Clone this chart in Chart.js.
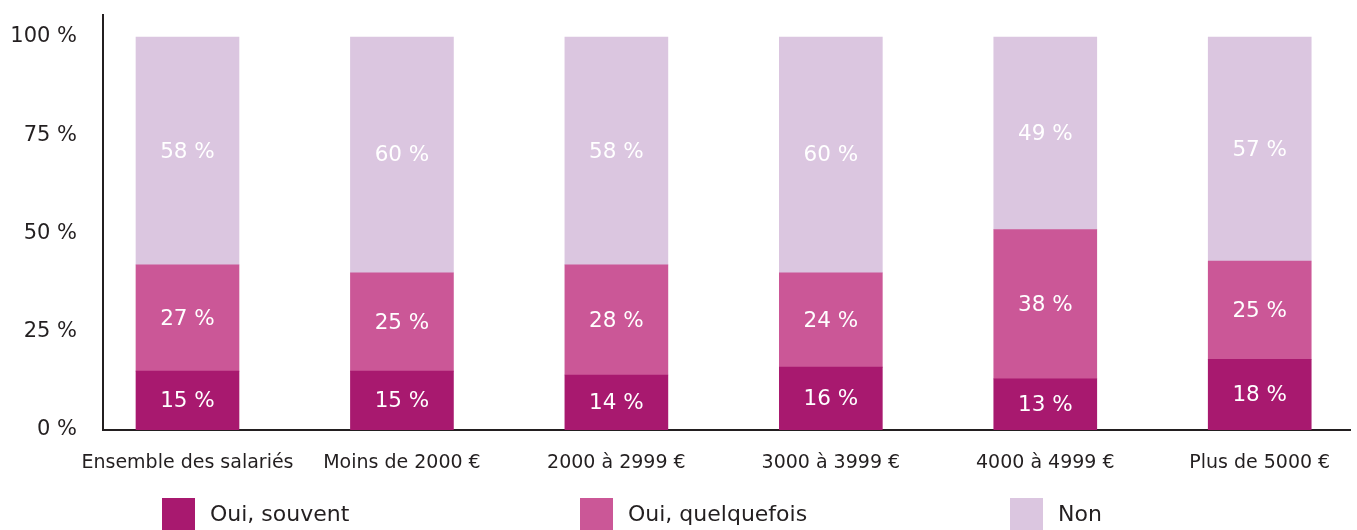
<!DOCTYPE html>
<html lang="fr">
<head>
<meta charset="utf-8">
<title>Salariés par revenu</title>
<script src="https://cdn.jsdelivr.net/npm/chart.js@4/dist/chart.umd.min.js"></script>
<style>
  html, body { margin: 0; padding: 0; background: #fff; }
  #wrap { width: 1357px; height: 530px; position: relative; }
</style>
</head>
<body>
<div id="wrap"><canvas id="chart"></canvas></div>
<script>
/* ========= Data ========= */
const categories = ["Ensemble des salariés", "Moins de 2000 €", "2000 à 2999 €", "3000 à 3999 €", "4000 à 4999 €", "Plus de 5000 €"];
const seriesNames = ["Oui, souvent", "Oui, quelquefois", "Non"];
const ouiSouvent = [15, 15, 14, 16, 13, 18];
const ouiQuelquefois = [27, 25, 28, 24, 38, 25];
const non = [58, 60, 58, 60, 49, 57];
const yTicks = [0, 25, 50, 75, 100];

/* ========= Styles ========= */
const COLORS = ["#a8196f", "#cb5797", "#dbc6e0"];
const INK = "#231f20";
const FONT = "'DejaVu Sans', sans-serif";

/* ========= Helpers ========= */
function toPoints(values) {
  return values.map((v, i) => ({ x: i, y: v }));
}

/* segment values written in the middle of each bar piece */
const barLabels = {
  id: "barLabels",
  afterDatasetsDraw(chart) {
    const ctx = chart.ctx;
    ctx.save();
    ctx.fillStyle = "#fff";
    ctx.font = "21.5px " + FONT;
    ctx.textAlign = "center";
    ctx.textBaseline = "middle";
    chart.data.datasets.forEach((ds, di) => {
      chart.getDatasetMeta(di).data.forEach((bar, i) => {
        const p = bar.getProps(["x", "y", "base"], true);
        ctx.fillText(ds.data[i].y + " %", p.x, (p.y + p.base) / 2 + 1);
      });
    });
    ctx.restore();
  }
};

/* legend row at the bottom, boxes cut by the canvas edge like the original */
const legendStarts = [162, 580, 1010];
const bottomLegend = {
  id: "bottomLegend",
  afterDraw(chart) {
    const ctx = chart.ctx;
    ctx.save();
    ctx.font = "22px " + FONT;
    ctx.textBaseline = "middle";
    ctx.textAlign = "left";
    chart.data.datasets.forEach((ds, i) => {
      const x = legendStarts[i];
      ctx.fillStyle = ds.backgroundColor;
      ctx.fillRect(x, 498, 33, 34);
      ctx.fillStyle = INK;
      ctx.fillText(ds.label, x + 48, 515);
    });
    ctx.restore();
  }
};

/* ========= Chart ========= */
const xMin = -0.394;
const xMax = 5.421;

new Chart(document.getElementById("chart"), {
  type: "bar",
  data: {
    datasets: [
      { label: seriesNames[0], data: toPoints(ouiSouvent), backgroundColor: COLORS[0] },
      { label: seriesNames[1], data: toPoints(ouiQuelquefois), backgroundColor: COLORS[1] },
      { label: seriesNames[2], data: toPoints(non), backgroundColor: COLORS[2] }
    ]
  },
  options: {
    responsive: true,
    maintainAspectRatio: false,
    animation: false,
    layout: { padding: { top: 15, right: 7, left: 0, bottom: 0 } },
    datasets: { bar: { barThickness: 103, borderWidth: 0 } },
    plugins: { legend: { display: false }, tooltip: { enabled: false } },
    scales: {
      x: {
        type: "linear",
        stacked: true,
        offset: false,
        bounds: "data",
        min: xMin,
        max: xMax,
        afterBuildTicks: s => { s.ticks = categories.map((_, i) => ({ value: i })); },
        afterFit: s => { s.height = 100; s.paddingLeft = 0; s.paddingRight = 0; },
        grid: { display: false, drawTicks: false },
        border: { display: true, color: INK, width: 2 },
        ticks: {
          autoSkip: false,
          maxRotation: 0,
          padding: 22,
          color: INK,
          font: { family: FONT, size: 19 },
          callback: (v, i) => categories[i]
        }
      },
      y: {
        stacked: true,
        bounds: "data",
        min: 0,
        max: 105.6,
        afterFit: s => { s.width = 103; s.paddingTop = 0; s.paddingBottom = 0; },
        afterBuildTicks: s => { s.ticks = yTicks.map(v => ({ value: v })); },
        grid: { display: false, drawTicks: false },
        border: { display: true, color: INK, width: 2 },
        ticks: {
          padding: 26,
          color: INK,
          font: { family: FONT, size: 21 },
          callback: v => v + " %"
        }
      }
    }
  },
  plugins: [barLabels, bottomLegend]
});
</script>
</body>
</html>
